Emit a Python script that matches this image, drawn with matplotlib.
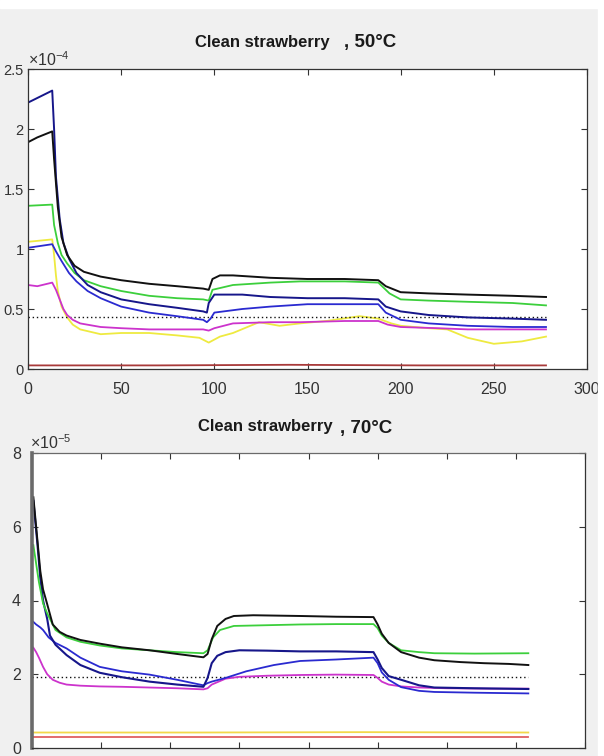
"""
Dos paneles estilo MATLAB: fresa limpia a 50 C y 70 C.
Guarda out.png (604x756).
"""

import matplotlib
matplotlib.use("Agg")
import matplotlib.pyplot as plt
from matplotlib.patches import Rectangle

plt.rcParams["font.family"] = ["Liberation Sans", "DejaVu Sans"]

# ---- 50 C (unidades 1e-4) ----
x50_black = [0, 5, 13, 14, 16, 18, 21, 25, 30, 39, 50, 65, 80, 94, 97, 99, 103, 110, 130, 150, 170, 188, 192, 200, 215, 236, 260, 278]
y50_black = [1.89, 1.93, 1.98, 1.75, 1.35, 1.10, 0.95, 0.86, 0.81, 0.77, 0.74, 0.71, 0.69, 0.67, 0.66, 0.75, 0.78, 0.78, 0.76, 0.75, 0.75, 0.74, 0.69, 0.64, 0.63, 0.62, 0.61, 0.60]

x50_green = [0, 13, 14, 16, 18, 21, 25, 30, 39, 50, 65, 80, 94, 97, 99, 110, 130, 146, 170, 188, 194, 200, 215, 236, 260, 278]
y50_green = [1.36, 1.37, 1.20, 1.05, 0.95, 0.88, 0.80, 0.74, 0.69, 0.65, 0.61, 0.59, 0.58, 0.57, 0.66, 0.70, 0.72, 0.73, 0.73, 0.72, 0.63, 0.58, 0.57, 0.56, 0.55, 0.53]

x50_navy = [0, 13, 14, 15, 17, 19, 22, 26, 32, 39, 50, 65, 80, 94, 96, 97, 100, 115, 130, 150, 170, 188, 192, 200, 215, 236, 260, 278]
y50_navy = [2.22, 2.32, 2.0, 1.6, 1.25, 1.05, 0.92, 0.80, 0.70, 0.64, 0.58, 0.54, 0.51, 0.48, 0.47, 0.55, 0.62, 0.62, 0.60, 0.59, 0.59, 0.58, 0.52, 0.48, 0.45, 0.43, 0.42, 0.41]

x50_blue = [0, 13, 15, 18, 22, 26, 32, 39, 50, 65, 80, 94, 96, 98, 100, 115, 130, 150, 170, 188, 192, 200, 215, 236, 260, 278]
y50_blue = [1.01, 1.04, 0.98, 0.90, 0.80, 0.73, 0.65, 0.59, 0.52, 0.47, 0.44, 0.41, 0.39, 0.42, 0.47, 0.50, 0.52, 0.54, 0.54, 0.54, 0.47, 0.41, 0.38, 0.36, 0.35, 0.35]

x50_mag = [0, 5, 13, 15, 17, 19, 21, 24, 28, 39, 50, 65, 80, 94, 97, 100, 110, 130, 146, 170, 188, 193, 200, 220, 236, 260, 278]
y50_mag = [0.70, 0.69, 0.72, 0.66, 0.58, 0.50, 0.45, 0.41, 0.38, 0.35, 0.34, 0.33, 0.33, 0.33, 0.32, 0.34, 0.38, 0.39, 0.39, 0.40, 0.40, 0.37, 0.35, 0.34, 0.33, 0.33, 0.33]

x50_yel = [0, 13, 14, 15, 16, 18, 21, 24, 28, 39, 50, 65, 80, 92, 97, 103, 110, 124, 135, 146, 160, 178, 188, 195, 200, 215, 225, 236, 250, 265, 278]
y50_yel = [1.06, 1.08, 0.95, 0.78, 0.65, 0.52, 0.43, 0.37, 0.33, 0.29, 0.30, 0.30, 0.28, 0.26, 0.22, 0.27, 0.30, 0.39, 0.36, 0.38, 0.40, 0.44, 0.42, 0.38, 0.36, 0.34, 0.33, 0.26, 0.21, 0.23, 0.27]

x50_red = [0, 70, 140, 210, 278]
y50_red = [0.03, 0.03, 0.035, 0.03, 0.03]

x50_dot = [0, 278]
y50_dot = [0.43, 0.43]

# ---- 70 C (unidades 1e-5) ----
x70_black = [1, 2, 4, 6, 8, 11, 15, 20, 25, 35, 49, 65, 85, 105, 124, 127, 130, 134, 140, 146, 160, 194, 220, 247, 250, 253, 258, 267, 280, 291, 310, 327, 345, 359]
y70_black = [6.8, 6.4, 5.6, 4.8, 4.3, 3.9, 3.35, 3.15, 3.05, 2.93, 2.83, 2.73, 2.65, 2.55, 2.46, 2.55, 2.95, 3.31, 3.5, 3.58, 3.6, 3.58, 3.56, 3.55, 3.35, 3.1, 2.85, 2.60, 2.45, 2.38, 2.33, 2.30, 2.28, 2.25]

x70_green = [1, 3, 5, 8, 11, 13, 17, 25, 35, 49, 65, 85, 105, 124, 127, 131, 136, 146, 170, 194, 220, 247, 250, 253, 258, 267, 280, 291, 320, 359]
y70_green = [5.5, 5.0, 4.5, 3.92, 3.65, 3.5, 3.2, 3.0, 2.88, 2.78, 2.70, 2.65, 2.60, 2.57, 2.65, 3.0, 3.2, 3.31, 3.33, 3.35, 3.36, 3.36, 3.25, 3.05, 2.85, 2.65, 2.60, 2.57, 2.56, 2.57]

x70_navy = [1, 2, 4, 6, 8, 11, 13, 17, 25, 35, 49, 65, 85, 105, 124, 127, 130, 134, 140, 150, 170, 194, 220, 247, 250, 253, 258, 267, 280, 291, 320, 359]
y70_navy = [6.7, 6.3, 5.5, 4.6, 4.0, 3.5, 3.05, 2.8, 2.52, 2.25, 2.04, 1.92, 1.80, 1.72, 1.66, 1.9, 2.3, 2.5, 2.6, 2.65, 2.64, 2.62, 2.62, 2.60, 2.4, 2.17, 1.95, 1.85, 1.70, 1.64, 1.62, 1.60]

x70_blue = [1, 3, 6, 8, 12, 17, 25, 35, 49, 65, 85, 105, 124, 127, 130, 140, 155, 175, 194, 220, 247, 250, 253, 258, 267, 280, 291, 320, 359]
y70_blue = [3.42, 3.35, 3.27, 3.2, 3.0, 2.85, 2.70, 2.45, 2.20, 2.08, 1.99, 1.85, 1.70, 1.76, 1.80, 1.90, 2.08, 2.25, 2.36, 2.40, 2.45, 2.30, 2.05, 1.85, 1.65, 1.55, 1.52, 1.50, 1.48]

x70_mag = [1, 3, 5, 8, 11, 15, 20, 25, 35, 49, 65, 85, 105, 124, 127, 130, 135, 140, 150, 170, 194, 220, 247, 250, 253, 258, 267, 280, 300, 330, 359]
y70_mag = [2.72, 2.6, 2.45, 2.2, 2.0, 1.85, 1.77, 1.72, 1.69, 1.67, 1.66, 1.64, 1.62, 1.59, 1.62, 1.72, 1.80, 1.88, 1.93, 1.96, 1.98, 1.99, 1.98, 1.90, 1.80, 1.72, 1.67, 1.64, 1.62, 1.61, 1.61]

x70_yel = [0, 120, 240, 359]
y70_yel = [0.42, 0.42, 0.43, 0.42]

x70_red = [0, 359]
y70_red = [0.29, 0.29]

x70_dot = [0, 359]
y70_dot = [1.92, 1.92]

yticks50 = [0, 0.5, 1, 1.5, 2, 2.5]
yticklabels50 = ["0", "0.5", "1", "1.5", "2", "2.5"]
xticks50 = [0, 50, 100, 150, 200, 250, 300]
yticks70 = [0, 2, 4, 6, 8]
xticks70 = [0, 50, 100, 150, 200, 250, 300, 350, 400]

C_BLACK = "#111111"
C_GREEN = "#3ccf3c"
C_NAVY = "#16168a"
C_BLUE = "#2a2ad0"
C_MAG = "#cc33cc"
C_YEL = "#eeea40"
GRIS = "#333333"

W, H = 604, 756


def caja(x0, y0, x1, y1):
    # pixeles (origen arriba-izquierda) -> fraccion de figura
    return [x0 / W, 1 - y1 / H, (x1 - x0) / W, (y1 - y0) / H]


def estilo(ax):
    ax.set_facecolor("white")
    for s in ax.spines.values():
        s.set_color(GRIS)
        s.set_linewidth(0.9)
    ax.tick_params(direction="in", length=4, width=0.8, colors=GRIS,
                   top=True, right=True, labelsize=11.5)


fig = plt.figure(figsize=(W / 100, H / 100), dpi=100, facecolor="#f0f0f0")
fig.patches.append(Rectangle((0, 1 - 8 / H), 1, 8 / H, transform=fig.transFigure,
                             color="white", zorder=0))
fig.patches.append(Rectangle((598 / W, 0), 6 / W, 1, transform=fig.transFigure,
                             color="white", zorder=0))

# 1) Panel 50 C
ax1 = fig.add_axes(caja(28, 69, 587, 369))
estilo(ax1)
ax1.plot(x50_red, y50_red, color="#a83a3a", lw=1.3)
ax1.plot(x50_yel, y50_yel, color=C_YEL, lw=1.3)
ax1.plot(x50_dot, y50_dot, color=C_BLACK, lw=1.0, linestyle=(0, (1, 2)))
ax1.plot(x50_mag, y50_mag, color=C_MAG, lw=1.3)
ax1.plot(x50_blue, y50_blue, color=C_BLUE, lw=1.3)
ax1.plot(x50_green, y50_green, color=C_GREEN, lw=1.3)
ax1.plot(x50_navy, y50_navy, color=C_NAVY, lw=1.4)
ax1.plot(x50_black, y50_black, color=C_BLACK, lw=1.4)
ax1.set_xlim(0, 300)
ax1.set_ylim(0, 2.5)
ax1.set_xticks(xticks50)
ax1.set_yticks(yticks50)
ax1.set_yticklabels(yticklabels50)
ax1.tick_params(axis="x", pad=9)
ax1.tick_params(axis="y", pad=3, labelsize=10.5)

fig.text(195 / W, 1 - 43 / H, "Clean strawberry", fontsize=12, fontweight="bold",
         color="#1a1a1a", va="center", ha="left")
fig.text(344 / W, 1 - 43 / H, ", 50°C", fontsize=13.5, fontweight="bold",
         color="#1a1a1a", va="center", ha="left")
fig.text(28 / W, 1 - 60 / H, r"$\mathregular{\times10^{-4}}$", fontsize=11.5,
         color=GRIS, va="center", ha="left")

# 2) Panel 70 C (abajo un poco recortado para que el "0" se vea)
ax2 = fig.add_axes(caja(32, 453, 585, 748))
estilo(ax2)
ax2.spines["left"].set_linewidth(2.6)
ax2.spines["left"].set_color("#6a6a6a")
ax2.spines["top"].set_color("#6a6a6a")
ax2.plot(x70_red, y70_red, color="#e06060", lw=1.3)
ax2.plot(x70_yel, y70_yel, color="#f2d84a", lw=1.3)
ax2.plot(x70_dot, y70_dot, color=C_BLACK, lw=1.0, linestyle=(0, (1, 2)))
ax2.plot(x70_mag, y70_mag, color=C_MAG, lw=1.3)
ax2.plot(x70_blue, y70_blue, color=C_BLUE, lw=1.3)
ax2.plot(x70_navy, y70_navy, color=C_NAVY, lw=1.5)
ax2.plot(x70_green, y70_green, color=C_GREEN, lw=1.3)
ax2.plot(x70_black, y70_black, color=C_BLACK, lw=1.4)
ax2.set_xlim(0, 400)
ax2.set_ylim(0, 8)
ax2.set_xticks(xticks70)
ax2.set_xticklabels([])
ax2.set_yticks(yticks70)
ax2.tick_params(axis="y", pad=8)

fig.text(198 / W, 1 - 427 / H, "Clean strawberry", fontsize=12, fontweight="bold",
         color="#1a1a1a", va="center", ha="left")
fig.text(340 / W, 1 - 428 / H, ", 70°C", fontsize=13.5, fontweight="bold",
         color="#1a1a1a", va="center", ha="left")
fig.text(30 / W, 1 - 443 / H, r"$\mathregular{\times10^{-5}}$", fontsize=11.5,
         color=GRIS, va="center", ha="left")

fig.savefig("out.png", dpi=100, facecolor=fig.get_facecolor())
